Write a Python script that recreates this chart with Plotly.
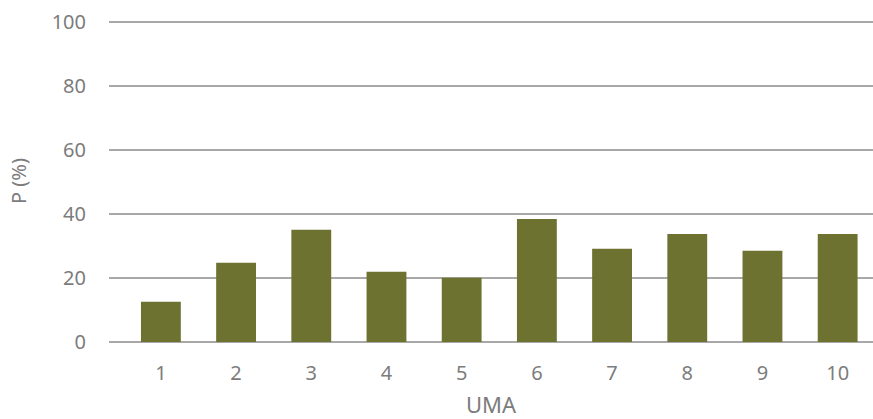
import plotly.graph_objects as go

# UMA categories and P (%) values
uma = [1, 2, 3, 4, 5, 6, 7, 8, 9, 10]
p_percent = [12.6, 24.8, 35.1, 22.0, 20.1, 38.5, 29.2, 33.8, 28.5, 33.8]
y_ticks = [0, 20, 40, 60, 80, 100]

BAR_COLOR = "#6e7230"
GRID_COLOR = "#a8a8a8"
TEXT_COLOR = "#7c7c7c"
FONT = "Noto Sans, sans-serif"

fig = go.Figure(
    go.Bar(
        x=uma,
        y=p_percent,
        width=0.53,
        marker=dict(color=BAR_COLOR, line=dict(width=0)),
    )
)

fig.update_layout(
    width=873,
    height=419,
    margin=dict(l=109, r=0, t=20, b=77),
    paper_bgcolor="white",
    plot_bgcolor="white",
    showlegend=False,
    font=dict(family=FONT, color=TEXT_COLOR, size=20),
)

fig.update_xaxes(
    range=[0.31, 10.47],
    tickvals=uma,
    ticktext=[str(v) for v in uma],
    showgrid=False,
    zeroline=False,
    showline=False,
    ticks="",
    ticklabelstandoff=17,
    tickfont=dict(size=20, color=TEXT_COLOR),
    title=dict(text="UMA", font=dict(size=22, color=TEXT_COLOR), standoff=15),
)

fig.update_yaxes(
    range=[0, 100.7],
    tickvals=y_ticks,
    showgrid=True,
    gridcolor=GRID_COLOR,
    gridwidth=2,
    zeroline=True,
    zerolinecolor=GRID_COLOR,
    zerolinewidth=2,
    showline=False,
    ticks="",
    ticklabelstandoff=22,
    tickfont=dict(size=20, color=TEXT_COLOR),
    title=dict(text="P (%)", font=dict(size=20, color=TEXT_COLOR), standoff=19),
)

fig.write_html("out.html")
